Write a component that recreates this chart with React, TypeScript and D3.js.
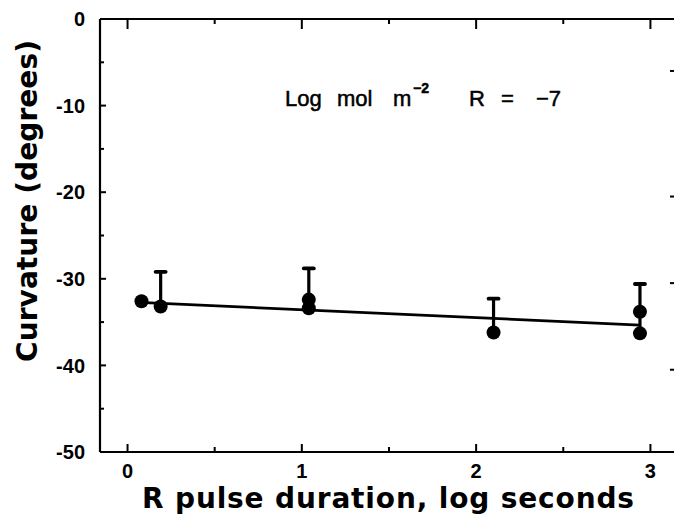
import React from 'react';
import * as d3 from 'd3';

const width = 674;
const height = 517;
const margin = { top: 19, right: -5, bottom: 65, left: 100 };

// points (log seconds, degrees)
const pointX = [0.08, 0.19, 1.04, 1.04, 2.1, 2.94, 2.94];
const pointY = [-32.6, -33.2, -33.4, -32.4, -36.2, -33.8, -36.3];

// error bars: x, bottom, top
const errX = [0.19, 1.04, 2.1, 2.94];
const errLow = [-33.2, -32.4, -36.2, -36.3];
const errHigh = [-29.2, -28.8, -32.3, -30.6];

// fitted line end points
const fitX = [0.1, 2.94];
const fitY = [-32.75, -35.35];

const xTicks = [0, 1, 2, 3];
const xMinor = [0.5, 1.5, 2.5];
const yTicks = [0, -10, -20, -30, -40, -50];
const yMinor = [-5, -15, -25, -35, -45];
const rightTicks = [-6, -20.5, -30.5, -40.5];

const App = () => {
    const innerW = width - margin.left - margin.right;
    const innerH = height - margin.top - margin.bottom;

    const x = d3.scaleLinear().domain([-0.158, 3.164]).range([0, innerW]);
    const y = d3.scaleLinear().domain([-50, 0]).range([innerH, 0]);

    const fit = d3.line<number>()
        .x(i => x(fitX[i]))
        .y(i => y(fitY[i]));

    const font = '"DejaVu Sans", sans-serif';
    const numFont = '"Liberation Sans", Arial, sans-serif';

    return (
        <svg width={width} height={height} style={{ position: 'absolute', left: 0, top: 0 }}>
            <rect width={width} height={height} fill="#fff" />
            <g transform={`translate(${margin.left},${margin.top})`}>
                {/* frame (right edge falls just outside the picture) */}
                <line x1={0} x2={0} y1={0} y2={innerH} stroke="#000" strokeWidth={2.2} />
                <line x1={0} x2={innerW} y1={innerH} y2={innerH} stroke="#000" strokeWidth={2.2} />
                <line x1={0} x2={innerW} y1={0} y2={0} stroke="#000" strokeWidth={2.2} />
                <line x1={innerW} x2={innerW} y1={0} y2={innerH} stroke="#000" strokeWidth={2.2} />

                {/* bottom + top ticks */}
                {xTicks.map(t => (
                    <g key={t} transform={`translate(${x(t)},0)`}>
                        <line y1={innerH} y2={innerH - 8} stroke="#000" strokeWidth={2} />
                        <line y1={0} y2={10} stroke="#000" strokeWidth={2} />
                        <text y={innerH + 26} textAnchor="middle" fontFamily={numFont}
                            fontWeight="bold" fontSize={20}>{t}</text>
                    </g>
                ))}
                {xMinor.map(t => (
                    <g key={t} transform={`translate(${x(t)},0)`}>
                        <line y1={innerH} y2={innerH - 5} stroke="#000" strokeWidth={2} />
                        <line y1={0} y2={5} stroke="#000" strokeWidth={2} />
                    </g>
                ))}

                {/* left ticks */}
                {yTicks.map(t => (
                    <g key={t} transform={`translate(0,${y(t)})`}>
                        {t !== 0 && t !== -50 && <line x1={0} x2={6} stroke="#000" strokeWidth={2} />}
                        <text x={-15} dy=".36em" textAnchor="end" fontFamily={numFont}
                            fontWeight="bold" fontSize={20}>{t}</text>
                    </g>
                ))}
                {yMinor.map(t => (
                    <line key={t} x1={0} x2={4} y1={y(t)} y2={y(t)} stroke="#000" strokeWidth={2} />
                ))}
                {rightTicks.map(t => (
                    <line key={t} x1={innerW - 9} x2={innerW} y1={y(t)} y2={y(t)} stroke="#000" strokeWidth={2} />
                ))}

                {/* fit line */}
                <path d={fit([0, 1]) || ''} fill="none" stroke="#000" strokeWidth={2.8} />

                {/* error bars */}
                {errX.map((v, i) => (
                    <g key={i}>
                        <line x1={x(v)} x2={x(v)} y1={y(errLow[i])} y2={y(errHigh[i])} stroke="#000" strokeWidth={3.2} />
                        <line x1={x(v) - 5} x2={x(v) + 5} y1={y(errHigh[i])} y2={y(errHigh[i])} stroke="#000" strokeWidth={3.8} strokeLinecap="round" />
                    </g>
                ))}

                {/* points */}
                {pointX.map((v, i) => (
                    <circle key={i} cx={x(v)} cy={y(pointY[i])} r={7} fill="#000" />
                ))}
            </g>

            {/* annotation */}
            <g fontFamily={numFont} fontSize={22} stroke="#000" strokeWidth={0.5}>
                <text x={285} y={106}>Log</text>
                <text x={337} y={106}>mol</text>
                <text x={393} y={106}>m</text>
                <text x={413} y={93} fontSize={14} fontWeight="bold">{'\u22122'}</text>
                <text x={469} y={106}>R</text>
                <text x={501} y={106}>=</text>
                <text x={536} y={106}>{'\u22127'}</text>
            </g>

            {/* axis titles */}
            <text x={388} y={508} textAnchor="middle" fontFamily={font}
                fontWeight="bold" fontSize={28} textLength={492} lengthAdjust="spacing">R pulse duration, log seconds</text>
            <text transform="translate(37,201) rotate(-90)" textAnchor="middle" fontFamily={font}
                fontWeight="bold" fontSize={28} textLength={322} lengthAdjust="spacing">Curvature (degrees)</text>
        </svg>
    );
};

export default App;
